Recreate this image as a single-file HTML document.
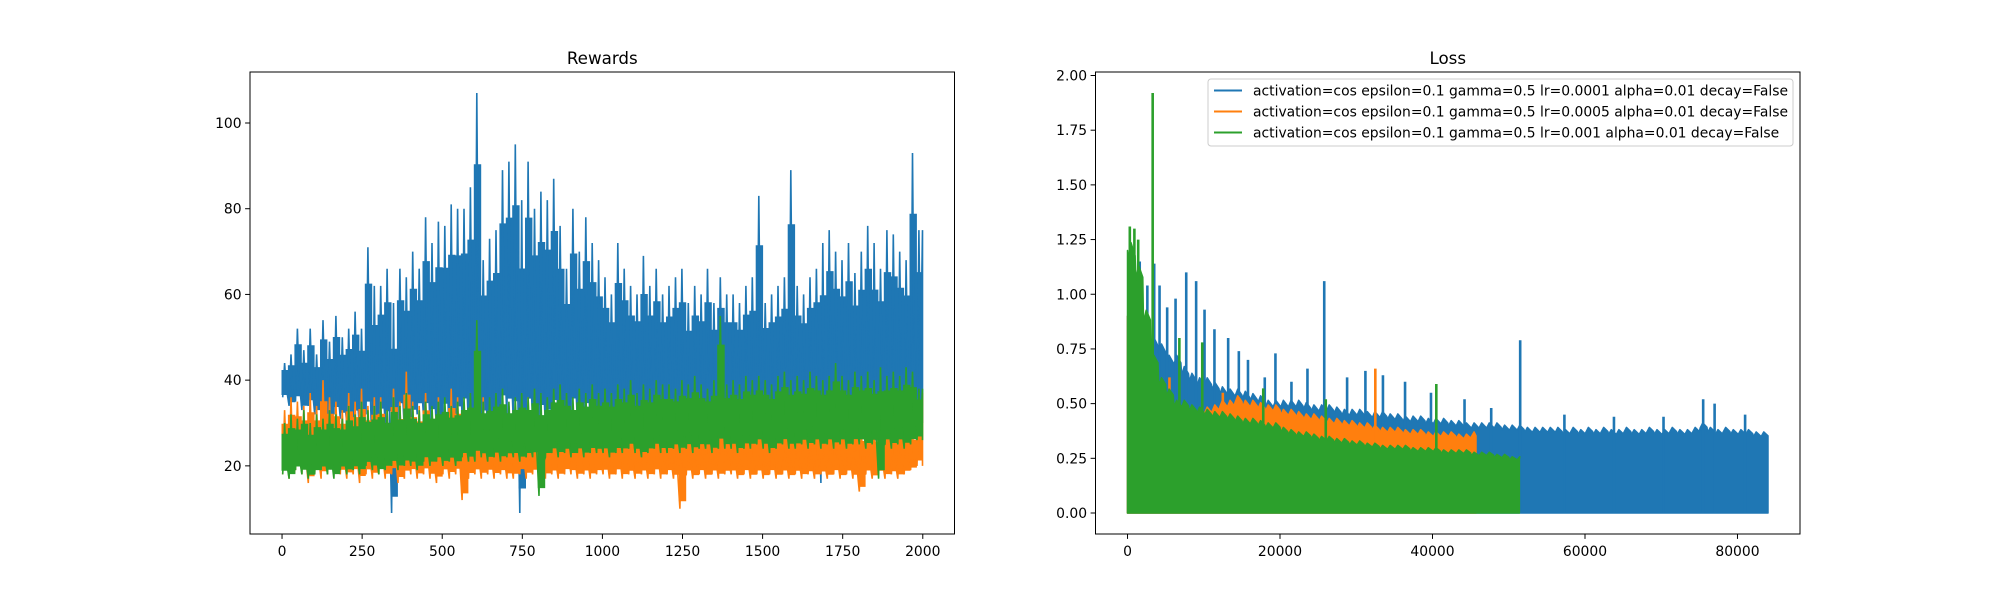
<!DOCTYPE html>
<html><head><meta charset="utf-8"><style>
html,body{margin:0;padding:0;background:#fff;}
svg{display:block;font-family:"DejaVu Sans","Liberation Sans",sans-serif;}
</style></head><body>
<svg id="fig" width="2000" height="600" viewBox="0 0 2000 600" xmlns="http://www.w3.org/2000/svg">
<defs>
<clipPath id="clipR"><rect x="250" y="72" width="704.5" height="462"/></clipPath>
<clipPath id="clipL"><rect x="1095.5" y="72" width="704.5" height="462"/></clipPath>
</defs>
<rect x="0" y="0" width="2000" height="600" fill="#fff"/>
<g id="rewards"></g>
<g id="loss"></g>
</svg>
<script>
// ---------- Rewards data (20-episode bins) ----------
const rewardBinSize = 20;
const rewardEpisodes = 2000;
const blueRewardHi = [44,46,52,47,52,46,54,49,55,50,
 52,56,52,71,62,62,66,58,66,64,
 70,66,78,72,77,76,81,80,80,85,
 107,68,73,75,89,91,95,82,91,80,
 84,82,87,76,66,80,70,78,72,68,
 64,60,72,66,62,60,69,62,66,60,
 62,64,66,58,62,60,66,58,64,60,
 60,58,62,64,83,58,60,62,64,89,
 62,60,64,66,72,75,70,68,72,65,
 70,76,72,66,75,74,70,68,93,75];
const blueRewardLo = [36,34,35,33,34,32,33,30,32,31,
 30,31,28,32,20,31,30,9,32,28,
 30,32,31,30,28,31,27,30,32,29,
 31,30,28,29,32,31,30,9,31,30,
 30,29,31,30,28,32,30,31,30,29,
 31,30,29,32,30,31,28,30,31,30,
 29,31,30,28,30,31,30,29,31,30,
 30,29,31,28,30,31,30,29,30,31,
 30,29,31,30,16,31,30,29,31,30,
 29,30,22,31,30,29,31,30,28,30];
const orangeRewardHi = [33,36,35,34,37,34,40,36,35,33,
 37,35,38,34,36,36,33,38,35,42,
 35,34,37,33,36,34,38,36,33,35,
 34,36,33,35,32,34,33,35,36,33,
 32,34,31,33,35,32,33,31,34,32,
 33,31,34,32,30,33,31,32,34,31,
 32,30,33,31,29,32,30,31,33,30,
 31,29,32,30,31,29,32,30,31,29,
 30,32,29,31,28,30,32,29,31,30,
 29,31,28,30,32,29,31,30,28,37];
const orangeRewardLo = [18,17,19,18,16,18,17,18,19,18,
 17,18,16,18,17,18,17,18,16,17,
 18,17,18,17,16,18,17,18,12,17,
 18,17,18,17,18,17,17,18,17,18,
 18,17,18,17,18,18,17,18,17,18,
 18,17,18,17,18,17,18,17,18,17,
 18,17,10,18,17,18,17,18,17,18,
 18,17,18,17,18,17,18,17,18,17,
 18,17,18,17,18,17,18,17,18,17,
 14,18,17,18,17,18,17,18,19,20];
const greenRewardHi = [30,32,31,33,30,32,31,33,32,31,
 34,32,35,33,34,35,33,36,34,37,
 34,33,35,34,35,36,34,35,36,37,
 54,35,36,37,38,35,36,37,36,38,
 37,36,38,39,37,36,38,37,39,37,
 38,37,39,38,40,37,39,38,40,39,
 39,38,40,39,41,39,38,40,55,39,
 40,39,41,40,41,40,39,41,42,40,
 41,40,42,41,40,41,44,41,40,42,
 41,42,40,43,41,42,41,43,42,38];
const greenRewardLo = [18,17,19,18,17,18,19,18,17,19,
 18,19,18,20,19,18,19,20,19,20,
 20,19,21,20,21,20,21,20,22,21,
 21,22,21,22,21,22,22,21,22,22,
 13,22,23,22,23,22,23,22,23,23,
 23,22,23,23,24,23,22,23,24,23,
 23,24,23,24,23,24,24,23,24,24,
 24,23,24,24,25,24,23,24,25,24,
 24,25,24,25,24,25,24,25,24,25,
 25,24,25,17,25,24,25,24,25,26];
const rewardXTicks = [0,250,500,750,1000,1250,1500,1750,2000];
const rewardYTicks = [20,40,60,80,100];

// ---------- Loss data (1000-step bins) ----------
const lossBinSize = 1000;
const lossLengths = [84000, 45700, 51400];
const blueLossTop = [0.9,0.85,0.8,0.78,0.75,0.7,0.7,0.65,0.62,0.6,
 0.6,0.58,0.56,0.55,0.55,0.54,0.53,0.52,0.5,0.5,
 0.5,0.5,0.5,0.49,0.48,0.48,0.48,0.47,0.46,0.46,
 0.46,0.45,0.45,0.45,0.44,0.44,0.43,0.43,0.43,0.42,
 0.42,0.42,0.41,0.41,0.4,0.4,0.4,0.4,0.4,0.39,
 0.39,0.39,0.38,0.38,0.38,0.38,0.38,0.37,0.38,0.37,
 0.38,0.37,0.38,0.37,0.37,0.38,0.37,0.37,0.38,0.37,
 0.37,0.38,0.37,0.37,0.38,0.40,0.38,0.37,0.38,0.37,
 0.37,0.37,0.36,0.36];
const orangeLossTop = [0.9,0.8,0.6,0.55,0.5,0.48,0.47,0.46,0.46,0.46,
 0.47,0.48,0.5,0.5,0.52,0.5,0.5,0.49,0.48,0.48,
 0.46,0.46,0.45,0.44,0.44,0.43,0.42,0.42,0.41,0.41,
 0.4,0.4,0.39,0.38,0.38,0.38,0.37,0.37,0.37,0.36,
 0.36,0.36,0.36,0.35,0.35,0.36];
const greenLossTop = [1.2,1.1,0.9,0.7,0.6,0.55,0.5,0.5,0.48,0.47,
 0.46,0.45,0.45,0.44,0.43,0.42,0.42,0.41,0.4,0.4,
 0.38,0.37,0.36,0.36,0.35,0.34,0.34,0.33,0.33,0.32,
 0.32,0.31,0.31,0.3,0.3,0.3,0.3,0.29,0.29,0.29,
 0.29,0.28,0.28,0.28,0.28,0.27,0.27,0.27,0.26,0.26,
 0.25,0.25];
const blueSpikeSteps = [800,1600,2600,3500,4200,5200,6300,7700,9000,10100,11400,13200,14600,15800,18000,19400,21500,23600,25800,28800,31200,33500,36400,39800,44200,47700,51500,57300,63800,70300,75500,77000,81000];
const blueSpikeVals = [1.0,1.15,1.04,1.14,1.04,0.94,0.98,1.10,1.06,0.93,0.84,0.80,0.74,0.70,0.62,0.73,0.60,0.66,1.06,0.62,0.65,0.63,0.60,0.55,0.52,0.48,0.79,0.45,0.44,0.44,0.52,0.50,0.45];
const orangeSpikeSteps = [1100,5500,12500,32500];
const orangeSpikeVals = [0.95,0.62,0.55,0.66];
const greenSpikeSteps = [300,900,1400,3300,6800,9800,17800,26000,40500];
const greenSpikeVals = [1.31,1.30,1.25,1.92,0.80,0.78,0.57,0.52,0.59];
const lossXTicks = [0,20000,40000,60000,80000];
const lossYTicks = [0,0.25,0.5,0.75,1.0,1.25,1.5,1.75,2.0];
const legendLabels = ["activation=cos epsilon=0.1 gamma=0.5 lr=0.0001 alpha=0.01 decay=False",
 "activation=cos epsilon=0.1 gamma=0.5 lr=0.0005 alpha=0.01 decay=False",
 "activation=cos epsilon=0.1 gamma=0.5 lr=0.001 alpha=0.01 decay=False"];

const C = ["#1f77b4","#ff7f0e","#2ca02c"];
const NS = "http://www.w3.org/2000/svg";
function mk(tag, attrs, parent){const e=document.createElementNS(NS,tag);for(const k in attrs)e.setAttribute(k,attrs[k]);parent.appendChild(e);return e;}

const R = {x0:250,y0:72,w:704.5,h:462,xmin:-100,xmax:2099,ymin:4.1,ymax:111.9};
function xr(v){return R.x0+(v-R.xmin)/(R.xmax-R.xmin)*R.w;}
function yr(v){return R.y0+R.h-(v-R.ymin)/(R.ymax-R.ymin)*R.h;}
const L = {x0:1095.5,y0:72,w:704.5,h:462,xmin:-4200,xmax:88200,ymin:-0.096,ymax:2.016};
function xl(v){return L.x0+(v-L.xmin)/(L.xmax-L.xmin)*L.w;}
function yl(v){return L.y0+L.h-(v-L.ymin)/(L.ymax-L.ymin)*L.h;}

const gR = document.getElementById('rewards');
const gL = document.getElementById('loss');

const tR = mk('text',{x:R.x0+R.w/2,y:64,'text-anchor':'middle','font-size':'16.7',fill:'#000'},gR);
tR.textContent='Rewards';



const plotR = mk('g',{'clip-path':'url(#clipR)'},gR);


const rewardSeries = [[blueRewardHi,blueRewardLo],[orangeRewardHi,orangeRewardLo],[greenRewardHi,greenRewardLo]];
rewardSeries.forEach((s,si)=>{
  const hi=s[0], lo=s[1], n=hi.length;
  const g=mk('g',{},plotR);
  
  
  const top=[], bot=[];
  for(let i=0;i<n;i++){
    const xa=xr(i*rewardBinSize), xb=xr(Math.min((i+1)*rewardBinSize,rewardEpisodes-1));
    const t=yr(lo[i]+0.78*(hi[i]-lo[i])), b=yr(lo[i]+0.08*(hi[i]-lo[i]));
    top.push(xa.toFixed(1)+','+t.toFixed(1), xb.toFixed(1)+','+t.toFixed(1));
    bot.unshift(xa.toFixed(1)+','+b.toFixed(1)); bot.unshift(xb.toFixed(1)+','+b.toFixed(1));
  }
  mk('polygon',{points:top.concat(bot).join(' '),fill:C[si],stroke:C[si],'stroke-width':'1'},g);
  const pts=[];
  for(let i=0;i<n;i++){
    pts.push(xr(i*rewardBinSize+2).toFixed(1)+','+yr(lo[i]).toFixed(1));
    pts.push(xr(i*rewardBinSize+8).toFixed(1)+','+yr(hi[i]).toFixed(1));
    pts.push(xr(i*rewardBinSize+13).toFixed(1)+','+yr(lo[i]+0.3*(hi[i]-lo[i])).toFixed(1));
  }
  pts.push(xr(rewardEpisodes-1).toFixed(1)+','+yr(hi[n-1]).toFixed(1));
  pts.push(xr(rewardEpisodes-1).toFixed(1)+','+yr(lo[n-1]).toFixed(1));
  mk('polyline',{points:pts.join(' '),fill:'none',stroke:C[si],'stroke-width':'1.6','stroke-linejoin':'miter','stroke-miterlimit':'1'},g);
});

const fR = mk('rect',{x:R.x0,y:R.y0,width:R.w,height:R.h,fill:'none',stroke:'#000','stroke-width':'1'},gR);


rewardXTicks.forEach(t=>{
  const x=xr(t);
  mk('line',{x1:x,y1:R.y0+R.h,x2:x,y2:R.y0+R.h+4.9,stroke:'#000','stroke-width':'1'},gR);
  const tx=mk('text',{x:x,y:556,'text-anchor':'middle','font-size':'13.9',fill:'#000'},gR);
  tx.textContent=String(t);
  
  
});
rewardYTicks.forEach(t=>{
  const y=yr(t);
  mk('line',{x1:R.x0-4.9,y1:y,x2:R.x0,y2:y,stroke:'#000','stroke-width':'1'},gR);
  const tx=mk('text',{x:R.x0-8.4,y:y+5,'text-anchor':'end','font-size':'13.9',fill:'#000'},gR);
  tx.textContent=String(t);
  
  
});

const tL = mk('text',{x:L.x0+L.w/2,y:64,'text-anchor':'middle','font-size':'16.7',fill:'#000'},gL);
tL.textContent='Loss';



const plotL = mk('g',{'clip-path':'url(#clipL)'},gL);


const lossTops=[blueLossTop,orangeLossTop,greenLossTop];
const spikeS=[blueSpikeSteps,orangeSpikeSteps,greenSpikeSteps];
const spikeV=[blueSpikeVals,orangeSpikeVals,greenSpikeVals];
lossTops.forEach((top,si)=>{
  const n=top.length, end=lossLengths[si];
  const pts=[xl(0).toFixed(1)+','+yl(0).toFixed(1), xl(0).toFixed(1)+','+yl(top[0]).toFixed(1)];
  for(let i=0;i<n;i++){
    const s0=i*lossBinSize, s1=Math.min((i+1)*lossBinSize,end);
    pts.push(xl(s0+100).toFixed(1)+','+yl(top[i]*0.97).toFixed(1));
    pts.push(xl(s0+lossBinSize*0.45).toFixed(1)+','+yl(top[i]*1.03).toFixed(1));
    pts.push(xl(s1).toFixed(1)+','+yl(top[i]*0.98).toFixed(1));
  }
  pts.push(xl(end).toFixed(1)+','+yl(0).toFixed(1));
  const g=mk('g',{},plotL);
  
  
  mk('polygon',{points:pts.join(' '),fill:C[si],stroke:C[si],'stroke-width':'1.5','stroke-linejoin':'round'},g);
  spikeS[si].forEach((s,k)=>{
    mk('line',{x1:xl(s),y1:yl(0),x2:xl(s),y2:yl(spikeV[si][k]),stroke:C[si],'stroke-width':'2.6'},g);
  });
});

const fL = mk('rect',{x:L.x0,y:L.y0,width:L.w,height:L.h,fill:'none',stroke:'#000','stroke-width':'1'},gL);


lossXTicks.forEach(t=>{
  const x=xl(t);
  mk('line',{x1:x,y1:L.y0+L.h,x2:x,y2:L.y0+L.h+4.9,stroke:'#000','stroke-width':'1'},gL);
  const tx=mk('text',{x:x,y:556,'text-anchor':'middle','font-size':'13.9',fill:'#000'},gL);
  tx.textContent=String(t);
  
  
});
lossYTicks.forEach(t=>{
  const y=yl(t);
  mk('line',{x1:L.x0-4.9,y1:y,x2:L.x0,y2:y,stroke:'#000','stroke-width':'1'},gL);
  const tx=mk('text',{x:L.x0-8.4,y:y+5,'text-anchor':'end','font-size':'13.9',fill:'#000'},gL);
  tx.textContent=t.toFixed(2);
  
  
});

const lg = mk('g',{},gL);


mk('rect',{x:1208,y:79,width:585,height:67,rx:3,fill:'#fff','fill-opacity':'0.8',stroke:'#cccccc','stroke-width':'1'},lg);
legendLabels.forEach((lab,i)=>{
  const cy=90.5+i*21;
  const row=mk('g',{},lg);
  
  
  mk('line',{x1:1214,y1:cy,x2:1242,y2:cy,stroke:C[i],'stroke-width':'2'},row);
  const tx=mk('text',{x:1253,y:cy+5,'font-size':'13.9',fill:'#000'},row);
  tx.textContent=lab;
});
</script>
</body></html>
